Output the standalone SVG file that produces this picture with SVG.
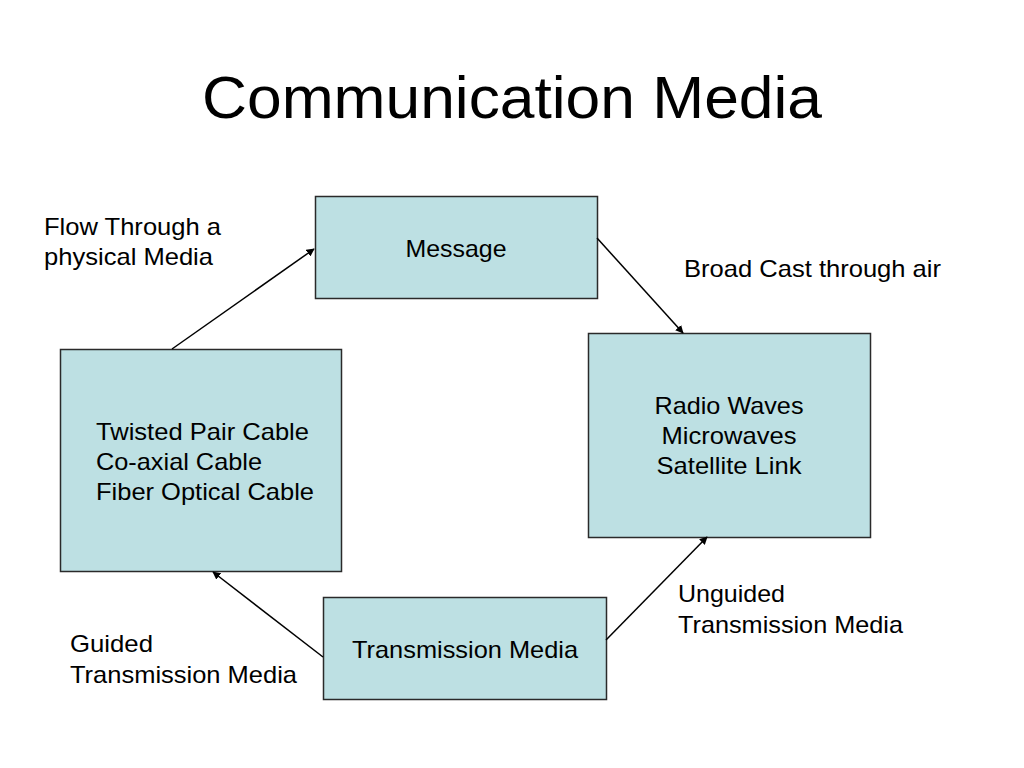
<svg xmlns="http://www.w3.org/2000/svg" width="1024" height="768" viewBox="0 0 1024 768">
<style>
.box{fill:#bde0e3;stroke:#2a2a2a;stroke-width:1.5}
text{font-family:"Liberation Sans",Arial,sans-serif;fill:#000;font-size:24px}
.c{text-anchor:middle}
.con{stroke:#000;stroke-width:1.5;fill:none;marker-end:url(#ah)}
</style>
<defs>
<marker id="ah" viewBox="0 0 10 10" refX="9" refY="5" markerWidth="8" markerHeight="8" markerUnits="userSpaceOnUse" orient="auto">
<path d="M0,0 L10,5 L0,10 z" fill="#000"/>
</marker>
</defs>
<rect width="1024" height="768" fill="#fff"/>
<text x="512" y="118" class="c" style="font-size:60px" textLength="620" lengthAdjust="spacingAndGlyphs">Communication Media</text>
<g id="message">
<rect class="box" x="315.5" y="196.5" width="282" height="102"/>
<text x="456" y="257" class="c" textLength="101" lengthAdjust="spacingAndGlyphs">Message</text>
</g>
<g id="guided">
<rect class="box" x="60.5" y="349.5" width="281" height="222"/>
<text x="96" y="440" textLength="213" lengthAdjust="spacingAndGlyphs">Twisted Pair Cable</text>
<text x="96" y="470" textLength="166" lengthAdjust="spacingAndGlyphs">Co-axial Cable</text>
<text x="96" y="500" textLength="218" lengthAdjust="spacingAndGlyphs">Fiber Optical Cable</text>
</g>
<g id="unguided">
<rect class="box" x="588.5" y="333.5" width="282" height="204"/>
<text x="729" y="414" class="c" textLength="149" lengthAdjust="spacingAndGlyphs">Radio Waves</text>
<text x="729" y="444" class="c" textLength="135" lengthAdjust="spacingAndGlyphs">Microwaves</text>
<text x="729" y="474" class="c" textLength="145" lengthAdjust="spacingAndGlyphs">Satellite Link</text>
</g>
<g id="transmission">
<rect class="box" x="323.5" y="597.5" width="283" height="102"/>
<text x="465" y="658" class="c" textLength="226" lengthAdjust="spacingAndGlyphs">Transmission Media</text>
</g>
<g id="labels">
<text x="44" y="235" textLength="177" lengthAdjust="spacingAndGlyphs">Flow Through a</text>
<text x="44" y="265" textLength="169" lengthAdjust="spacingAndGlyphs">physical Media</text>
<text x="684" y="277" textLength="257" lengthAdjust="spacingAndGlyphs">Broad Cast through air</text>
<text x="678" y="602" textLength="107" lengthAdjust="spacingAndGlyphs">Unguided</text>
<text x="678" y="633" textLength="225" lengthAdjust="spacingAndGlyphs">Transmission Media</text>
<text x="70" y="652" textLength="83" lengthAdjust="spacingAndGlyphs">Guided</text>
<text x="70" y="683" textLength="227" lengthAdjust="spacingAndGlyphs">Transmission Media</text>
</g>
<g id="connectors">
<line class="con" x1="172" y1="349" x2="314" y2="249"/>
<line class="con" x1="597" y1="238" x2="683" y2="333"/>
<line class="con" x1="323" y1="657" x2="213" y2="572"/>
<line class="con" x1="606" y1="640" x2="707" y2="537"/>
</g>
</svg>
